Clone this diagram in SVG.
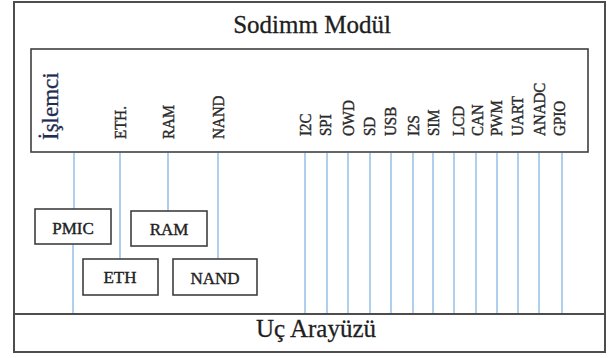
<svg xmlns="http://www.w3.org/2000/svg" width="608" height="358" viewBox="0 0 608 358">
  <style>
    .frame { fill: #ffffff; stroke: #4d4d4d; stroke-width: 2; }
    .box { fill: #ffffff; stroke: #3f3f3f; stroke-width: 1.6; }
    .wire { stroke: #9cc3e8; stroke-width: 1.6; fill: none; }
    .title { font-family: "Liberation Serif", "Times New Roman", serif; font-size: 25px; fill: #1e1e1e; stroke: #1e1e1e; stroke-width: 0.3; text-anchor: middle; }
    .cpu { font-family: "Liberation Serif", "Times New Roman", serif; font-size: 23px; fill: #1f2d52; stroke: #1f2d52; stroke-width: 0.3; }
    .pin { font-family: "Liberation Serif", "Times New Roman", serif; font-size: 15px; fill: #2a2a2a; stroke: #2a2a2a; stroke-width: 0.35; }
    .lbl { font-family: "Liberation Serif", "Times New Roman", serif; font-size: 17px; fill: #222222; stroke: #222222; stroke-width: 0.4; text-anchor: middle; }
  </style>

  <!-- outer module frame -->
  <g id="sodimm-module">
    <rect class="frame" x="14" y="2" width="591" height="350"/>
    <text class="title" x="312" y="33">Sodimm Modül</text>
  </g>

  <!-- edge connector strip -->
  <g id="uc-arayuzu">
    <line x1="14" y1="314" x2="605" y2="314" stroke="#4d4d4d" stroke-width="2"/>
    <text class="title" x="316" y="337">Uç Arayüzü</text>
  </g>

  <!-- connectors -->
  <g id="connectors">
    <line class="wire" x1="74" y1="153" x2="74" y2="209"/>
    <line class="wire" x1="73" y1="244" x2="73" y2="313"/>
    <line class="wire" x1="120" y1="153" x2="120" y2="259"/>
    <line class="wire" x1="168" y1="153" x2="168" y2="211"/>
    <line class="wire" x1="218" y1="153" x2="218" y2="259"/>
    <line class="wire" x1="305" y1="153" x2="305" y2="313"/>
    <line class="wire" x1="327" y1="153" x2="327" y2="313"/>
    <line class="wire" x1="348" y1="153" x2="348" y2="313"/>
    <line class="wire" x1="370" y1="153" x2="370" y2="313"/>
    <line class="wire" x1="391" y1="153" x2="391" y2="313"/>
    <line class="wire" x1="413" y1="153" x2="413" y2="313"/>
    <line class="wire" x1="433" y1="153" x2="433" y2="313"/>
    <line class="wire" x1="454" y1="153" x2="454" y2="313"/>
    <line class="wire" x1="476" y1="153" x2="476" y2="313"/>
    <line class="wire" x1="497" y1="153" x2="497" y2="313"/>
    <line class="wire" x1="518" y1="153" x2="518" y2="313"/>
    <line class="wire" x1="539" y1="153" x2="539" y2="313"/>
    <line class="wire" x1="562" y1="153" x2="562" y2="313"/>
  </g>

  <!-- processor block with its pin groups (glyphs drawn slightly tall) -->
  <g id="islemci">
    <rect class="box" x="31" y="49" width="557" height="103" stroke-width="2"/>
    <text class="cpu" transform="translate(58 140) rotate(-90)">İşlemci</text>
    <text class="pin" transform="translate(126 139) rotate(-90) scale(1 1.18)">ETH.</text>
    <text class="pin" transform="translate(174 139) rotate(-90) scale(1 1.18)">RAM</text>
    <text class="pin" transform="translate(224 139) rotate(-90) scale(1 1.18)">NAND</text>
    <text class="pin" transform="translate(311 136) rotate(-90) scale(1 1.18)">I2C</text>
    <text class="pin" transform="translate(331 136) rotate(-90) scale(1 1.18)">SPI</text>
    <text class="pin" transform="translate(354 136) rotate(-90) scale(1 1.18)">OWD</text>
    <text class="pin" transform="translate(375 136) rotate(-90) scale(1 1.18)">SD</text>
    <text class="pin" transform="translate(396 136) rotate(-90) scale(1 1.18)">USB</text>
    <text class="pin" transform="translate(419 136) rotate(-90) scale(1 1.18)">I2S</text>
    <text class="pin" transform="translate(439 136) rotate(-90) scale(1 1.18)">SIM</text>
    <text class="pin" transform="translate(464 136) rotate(-90) scale(1 1.18)">LCD</text>
    <text class="pin" transform="translate(483 136) rotate(-90) scale(1 1.18)">CAN</text>
    <text class="pin" transform="translate(502 136) rotate(-90) scale(1 1.18)">PWM</text>
    <text class="pin" transform="translate(523 136) rotate(-90) scale(1 1.18)">UART</text>
    <text class="pin" transform="translate(545 136) rotate(-90) scale(1 1.18)">ANADC</text>
    <text class="pin" transform="translate(565 136) rotate(-90) scale(1 1.18)">GPIO</text>
  </g>

  <g id="pmic">
    <rect class="box" x="35" y="209" width="76" height="35"/>
    <text class="lbl" x="73" y="234">PMIC</text>
  </g>

  <g id="ram">
    <rect class="box" x="131" y="211" width="76" height="35"/>
    <text class="lbl" x="169" y="235">RAM</text>
  </g>

  <g id="eth">
    <rect class="box" x="83" y="259" width="75" height="36"/>
    <text class="lbl" x="120" y="283">ETH</text>
  </g>

  <g id="nand">
    <rect class="box" x="173" y="259" width="84" height="36"/>
    <text class="lbl" x="215" y="284">NAND</text>
  </g>
</svg>
